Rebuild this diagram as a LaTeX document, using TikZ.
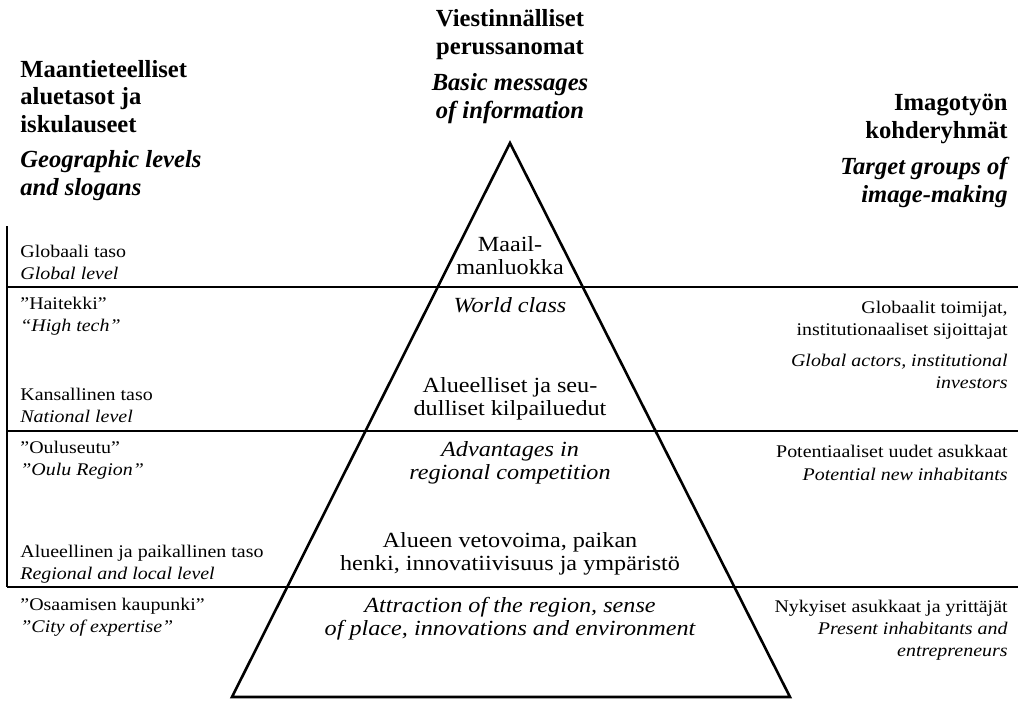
\documentclass[tikz,border=0pt]{standalone}
\usepackage{fontspec}
\setmainfont{Liberation Serif}[FakeStretch=1.12]
\newfontfamily\headfont{Liberation Serif}
\usetikzlibrary{positioning}
\tikzset{
  head/.style={font=\headfont\fontsize{12.3}{13.7}\selectfont\bfseries, inner sep=0pt},
  headit/.style={font=\headfont\fontsize{12.3}{13.7}\selectfont\bfseries\itshape, inner sep=0pt},
  side/.style={font=\fontsize{8.9}{11}\selectfont, inner sep=0pt, align=left, anchor=base west},
  target/.style={font=\fontsize{8.9}{11}\selectfont, inner sep=0pt, align=right, anchor=base east},
  tri/.style={font=\fontsize{10.8}{11.5}\selectfont, inner sep=0pt, align=center, anchor=base},
  rule/.style={line width=0.8pt, draw=black},
  edge/.style={line width=1.3pt, draw=black, line join=miter}
}
\begin{document}
\begin{tikzpicture}[x=0.5pt, y=-0.5pt]
  \useasboundingbox (0,0) rectangle (1018,720);

  % headings (a node's base is its last line)
  \node[head, align=left, anchor=base west] (lhead) at (20,132) {Maantieteelliset\\aluetasot ja\\iskulauseet};
  \node[headit, align=left, anchor=base west] (lheadit) at (20,195) {Geographic levels\\and slogans};
  \node[head, align=center, anchor=base] (chead) at (510,54) {Viestinnälliset\\perussanomat};
  \node[headit, align=center, anchor=base] (cheadit) at (510,118) {Basic messages\\of information};
  \node[head, align=right, anchor=base east] (rhead) at (1008,138) {Imagotyön\\kohderyhmät};
  \node[headit, align=right, anchor=base east] (rheadit) at (1008,202) {Target groups of\\image-making};

  % pyramid
  \coordinate (apex) at (510,143);
  \coordinate (bl) at (232,697);
  \coordinate (br) at (790,697);
  \draw[edge] (apex) -- (bl) -- (br) -- cycle;

  % level lines
  \coordinate (v1) at (7,226);
  \coordinate (h1) at (7,287);
  \coordinate (h2) at (7,431);
  \coordinate (h3) at (7,587);
  \coordinate (e1) at (1018,287);
  \coordinate (e2) at (1018,431);
  \coordinate (e3) at (1018,587);
  \draw[rule] (v1) -- (h3);
  \draw[rule] (h1) -- (e1);
  \draw[rule] (h2) -- (e2);
  \draw[rule] (h3) -- (e3);

  % geographic levels
  \node[side] (l1) at (20,279) {Globaali taso\\\itshape Global level};
  \node[side] (l2) at (20,331) {”Haitekki”\\\itshape “High tech”};
  \node[side] (l3) at (20,422) {Kansallinen taso\\\itshape National level};
  \node[side] (l4) at (20,475) {”Ouluseutu”\\\itshape ”Oulu Region”};
  \node[side] (l5) at (20,579) {Alueellinen ja paikallinen taso\\\itshape Regional and local level};
  \node[side] (l6) at (20,632) {”Osaamisen kaupunki”\\\itshape ”City of expertise”};

  % basic messages
  \node[tri] (t1) at (510,274) {Maail-\\manluokka};
  \node[tri, font=\fontsize{10.8}{11.5}\selectfont\itshape] (t2) at (510,312) {World class};
  \node[tri] (t3) at (510,415) {Alueelliset ja seu-\\dulliset kilpailuedut};
  \node[tri, font=\fontsize{10.8}{11.5}\selectfont\itshape] (t4) at (510,479) {Advantages in\\regional competition};
  \node[tri] (t5) at (510,570) {Alueen vetovoima, paikan\\henki, innovatiivisuus ja ympäristö};
  \node[tri, font=\fontsize{10.8}{11.5}\selectfont\itshape] (t6) at (510,635) {Attraction of the region, sense\\of place, innovations and environment};

  % target groups
  \node[target] (r1) at (1008,335) {Globaalit toimijat,\\institutionaaliset sijoittajat};
  \node[target, font=\fontsize{8.9}{11}\selectfont\itshape] (r2) at (1008,388) {Global actors, institutional\\investors};
  \node[target] (r3) at (1008,457) {Potentiaaliset uudet asukkaat};
  \node[target, font=\fontsize{8.9}{11}\selectfont\itshape] (r4) at (1008,480) {Potential new inhabitants};
  \node[target] (r5) at (1008,612) {Nykyiset asukkaat ja yrittäjät};
  \node[target, font=\fontsize{8.9}{11}\selectfont\itshape] (r6) at (1008,656) {Present inhabitants and\\entrepreneurs};
\end{tikzpicture}
\end{document}
